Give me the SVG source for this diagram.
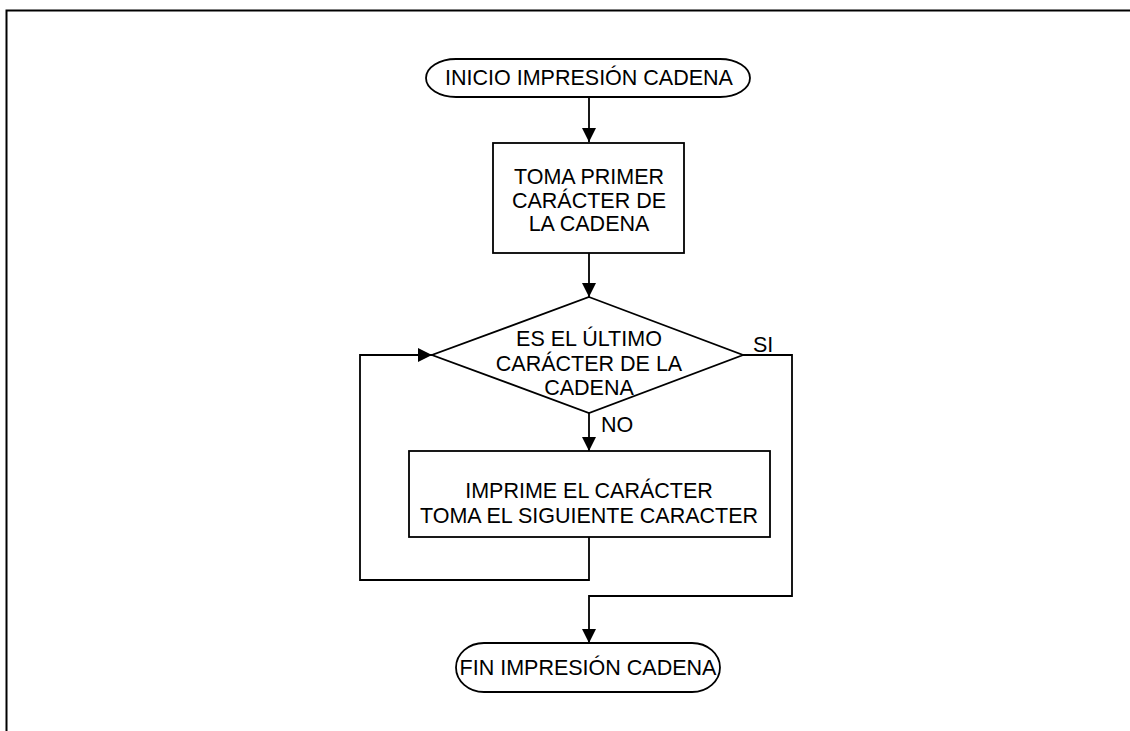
<svg xmlns="http://www.w3.org/2000/svg" width="1130" height="731" viewBox="0 0 1130 731">
<style>
.s{fill:#fff;stroke:#000;stroke-width:1.8}
.t{font-family:"Liberation Sans",Arial,sans-serif;font-size:21.5px;fill:#000;text-anchor:middle}
.l{font-family:"Liberation Sans",Arial,sans-serif;font-size:21.5px;fill:#000}
.c{fill:none;stroke:#000;stroke-width:1.8}
</style>
<defs>
<marker id="ah" markerWidth="14" markerHeight="14" refX="14" refY="7" orient="auto" markerUnits="userSpaceOnUse">
<path d="M0,0 L14,7 L0,14 Z" fill="#000"/>
</marker>
</defs>
<rect width="1130" height="731" fill="#fff"/>
<path d="M6.5,731 V10.5 H1130" fill="none" stroke="#000" stroke-width="2"/>
<g id="connectors">
<path class="c" d="M589,97 V142" marker-end="url(#ah)"/>
<path class="c" d="M589,253 V297" marker-end="url(#ah)"/>
<path class="c" d="M589,413 V451" marker-end="url(#ah)"/>
<path class="c" d="M589,537 V580 H360 V355 H432" marker-end="url(#ah)"/>
<path class="c" d="M743,355 H792 V596 H589 V643" marker-end="url(#ah)"/>
<text class="l" x="753" y="352">SI</text>
<text class="l" x="601" y="432">NO</text>
</g>
<g id="inicio">
<path class="s" d="M456,59 H720 A30,19 0 0 1 720,97 H456 A30,19 0 0 1 456,59 Z"/>
<text class="t" x="589" y="85">INICIO IMPRESIÓN CADENA</text>
</g>
<g id="toma-primer">
<rect class="s" x="493" y="143" width="191" height="110"/>
<text class="t" x="589" y="184">TOMA PRIMER</text>
<text class="t" x="589" y="208">CARÁCTER DE</text>
<text class="t" x="589" y="231">LA CADENA</text>
</g>
<g id="decision">
<path class="s" d="M589,297 L743,355 L589,413 L432,355 Z"/>
<text class="t" x="589" y="346">ES EL ÚLTIMO</text>
<text class="t" x="589" y="371">CARÁCTER DE LA</text>
<text class="t" x="589" y="395">CADENA</text>
</g>
<g id="imprime">
<rect class="s" x="409" y="451" width="361" height="86"/>
<text class="t" x="589" y="498">IMPRIME EL CARÁCTER</text>
<text class="t" x="589" y="523">TOMA EL SIGUIENTE CARACTER</text>
</g>
<g id="fin">
<path class="s" d="M484,643 H692 A28,24.5 0 0 1 692,692 H484 A28,24.5 0 0 1 484,643 Z"/>
<text class="t" x="588" y="675">FIN IMPRESIÓN CADENA</text>
</g>
</svg>
